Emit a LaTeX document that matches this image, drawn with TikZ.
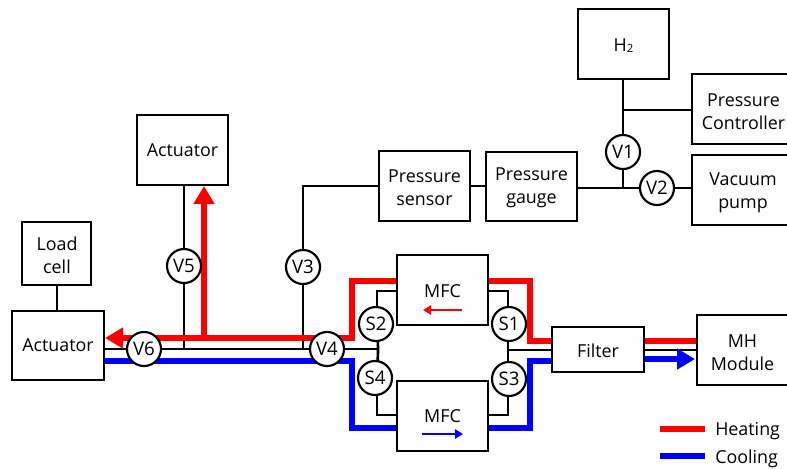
\documentclass[tikz,border=0pt]{standalone}
\usepackage{fontspec}
\setmainfont{Open Sans}
\usetikzlibrary{arrows.meta}
\definecolor{heat}{RGB}{255,0,0}
\definecolor{cool}{RGB}{0,0,255}
\tikzset{
  x=0.75pt,y=-0.75pt,
  box/.style={draw=black,fill=white,line width=1.9pt,inner sep=0pt,align=center,font=\fontsize{13.4}{17}\selectfont},
  boxtext/.style={inner sep=0pt,align=center,font=\fontsize{13.4}{17}\selectfont},
  valve/.style={circle,draw=black,fill=white,line width=1.6pt,inner sep=0pt,minimum size=25.5pt,font=\fontsize{14}{15}\selectfont},
  pipe/.style={draw=black,line width=2pt},
  hot/.style={draw=heat,line width=4.8pt},
  cold/.style={draw=cool,line width=4.8pt},
  hothead/.style={-{Triangle[length=13.5pt,width=15pt]},hot},
  coldhead/.style={-{Triangle[length=13.5pt,width=15pt]},cold},
  thin hot/.style={draw=heat,line width=1.5pt,-{Triangle[length=6pt,width=7pt]}},
  thin cold/.style={draw=cool,line width=1.5pt,-{Triangle[length=6pt,width=7pt]}},
  legend text/.style={inner sep=0pt,anchor=west,font=\fontsize{13.4}{15}\selectfont}
}
\begin{document}
\begin{tikzpicture}
\useasboundingbox (0,0) rectangle (787,468);
\clip (0,0) rectangle (787,468);
% positions
\coordinate (jTop) at (623,110);
\coordinate (jLow) at (623,188);
\coordinate (jV3) at (303,349);
\coordinate (jV5) at (184,349);
\coordinate (jL) at (378,349);
\coordinate (jR) at (508,350);
\coordinate (cS2) at (377,291);
\coordinate (cS1) at (508,291);
\coordinate (cS4) at (377,415);
\coordinate (cS3) at (508,415);
\coordinate (sensTurn) at (303,186);
% red and blue routes
\coordinate (rA) at (530,281);
\coordinate (rB) at (530,341);
\coordinate (rC) at (352,281);
\coordinate (rD) at (352,338);
\coordinate (rTip) at (105,338);
\coordinate (rUp) at (204,338);
\coordinate (rUpTip) at (204,186);
\coordinate (bA) at (352,361);
\coordinate (bB) at (352,428);
\coordinate (bC) at (530,428);
\coordinate (bD) at (530,361);
\coordinate (bStart) at (104,361);
\coordinate (bTip) at (695,359);
\coordinate (lgR1) at (660,429);
\coordinate (lgR2) at (705,429);
\coordinate (lgB1) at (660,456);
\coordinate (lgB2) at (705,456);
\coordinate (mr1) at (462,310);
\coordinate (mr2) at (423,310);
\coordinate (mb1) at (422,434);
\coordinate (mb2) at (463,434);
% black connectors
\path[pipe] (623,79) -- (jTop) -- (623,135);
\path[pipe] (jTop) -- (692,110);
\path[pipe] (623,169) -- (jLow);
\path[pipe] (577,188) -- (jLow) -- (692,188);
\path[pipe] (379,186) -- (sensTurn) -- (jV3);
\path[pipe] (470,186) -- (486,186);
\path[pipe] (184,185) -- (jV5);
\path[pipe] (57,285) -- (57,311);
\path[pipe] (104,349) -- (jL);
\path[pipe] (jR) -- (552,350);
\path[pipe] (644,350) -- (697,350);
\path[pipe] (jL) -- (377,310);
\path[pipe] (jL) -- (377,396);
\path[pipe] (jR) -- (508,310);
\path[pipe] (jR) -- (508,396);
\path[pipe] (377,310) -- (cS2) -- (397,291);
\path[pipe] (508,310) -- (cS1) -- (488,291);
\path[pipe] (377,396) -- (cS4) -- (397,415);
\path[pipe] (508,396) -- (cS3) -- (488,415);
% heating and cooling
\path[hot] (697,341) -- (644,341);
\path[hot] (552,341) -- (rB) -- (rA) -- (488,281);
\path[hot] (397,281) -- (rC) -- (rD) -- (rUp);
\path[hothead] (rD) -- (rTip);
\path[hothead] (rUp) -- (rUpTip);
\path[cold] (bStart) -- (bA) -- (bB) -- (397,428);
\path[cold] (488,428) -- (bC) -- (bD) -- (552,361);
\path[coldhead] (644,359) -- (bTip);
% boxes
\node[box,minimum width=91pt*0.75,minimum height=70pt*0.75] (h2) at (623.5,44) {};
\node[boxtext] (h2t) at (623.5,45.5) {H\raisebox{-0.5pt}{\fontsize{8.5}{10}\selectfont 2}};
\node[box,minimum width=102pt*0.75,minimum height=70pt*0.75] (pc) at (743,109) {};
\node[boxtext] (pct) at (743.5,111.5) {Pressure\\Controller};
\node[box,minimum width=102pt*0.75,minimum height=70pt*0.75] (vp) at (743,190) {};
\node[boxtext] (vpt) at (743,193) {Vacuum\\pump};
\node[box,minimum width=91pt*0.75,minimum height=69pt*0.75] (pg) at (531.5,186.5) {};
\node[boxtext] (pgt) at (531.5,188) {Pressure\\gauge};
\node[box,minimum width=91pt*0.75,minimum height=70pt*0.75] (ps) at (424.5,186) {};
\node[boxtext] (pst) at (424.5,187.5) {Pressure\\sensor};
\node[box,minimum width=91pt*0.75,minimum height=70pt*0.75] (at) at (182.5,150) {Actuator};
\node[box,minimum width=69pt*0.75,minimum height=63pt*0.75] (lc) at (56.5,253.5) {};
\node[boxtext] (lct) at (57,255) {Load\\cell};
\node[box,minimum width=92pt*0.75,minimum height=69pt*0.75] (al) at (58,345.5) {Actuator};
\node[box,minimum width=91pt*0.75,minimum height=70pt*0.75] (mfcT) at (442.5,290) {};
\node[box,minimum width=91pt*0.75,minimum height=70pt*0.75] (mfcB) at (442.5,416) {};
\node[boxtext] (mfcTt) at (442.5,291) {MFC};
\node[boxtext] (mfcBt) at (442.5,416) {MFC};
\node[box,minimum width=92pt*0.75,minimum height=45pt*0.75] (fl) at (598,349.5) {};
\node[boxtext] (flt) at (598,351) {Filter};
\node[box,minimum width=91pt*0.75,minimum height=70pt*0.75] (mh) at (742.5,350) {};
\node[boxtext] (mht) at (742.5,353) {MH\\Module};
% small arrows in MFC
\path[thin hot] (mr1) -- (mr2);
\path[thin cold] (mb1) -- (mb2);
% valves
\node[valve] (V1) at (623,152) {V1};
\node[valve] (V2) at (657,188) {V2};
\node[valve] (V3) at (303,267) {V3};
\node[valve] (V5) at (184,266) {V5};
\node[valve] (V6) at (144,349) {V6};
\node[valve] (V4) at (327,349) {V4};
\node[valve] (S2) at (376,324) {S2};
\node[valve] (S1) at (509,324) {S1};
\node[valve] (S4) at (375,378) {S4};
\node[valve] (S3) at (509,379) {S3};
% legend
\path[hot] (lgR1) -- (lgR2);
\path[cold] (lgB1) -- (lgB2);
\node[legend text] (lh) at (715,431.5) {Heating};
\node[legend text] (lk) at (715,458.5) {Cooling};
\end{tikzpicture}
\end{document}
